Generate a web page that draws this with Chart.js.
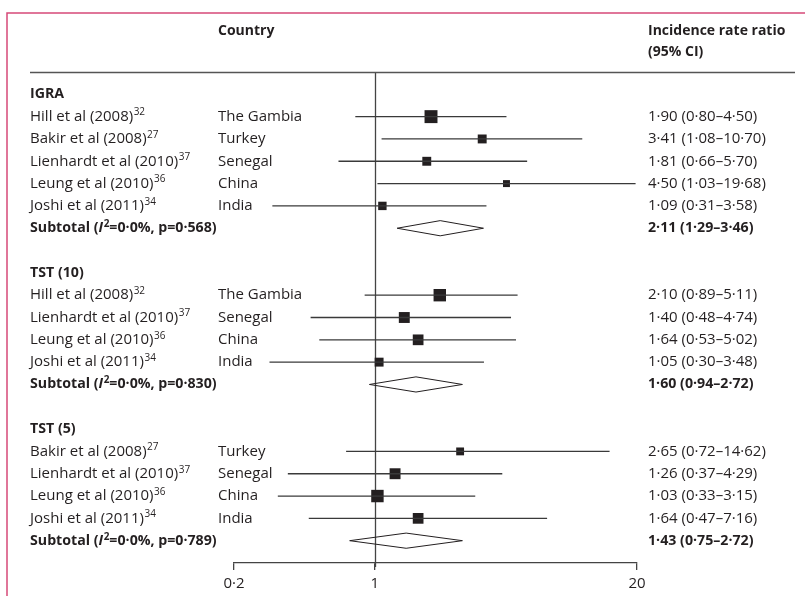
<!DOCTYPE html>
<html><head><meta charset="utf-8">
<script src="https://cdn.jsdelivr.net/npm/chart.js@4"></script>
<style>html,body{margin:0;padding:0;background:#fff}#wrap{width:805px;height:596px;position:relative}</style>
</head><body><div id="wrap"><canvas id="c" width="805" height="596"></canvas></div>
<script>
const groupNames = ['IGRA', 'TST (10)', 'TST (5)'];
const studyNames = ['Hill et al (2008)', 'Bakir et al (2008)', 'Lienhardt et al (2010)', 'Leung et al (2010)', 'Joshi et al (2011)',
  'Hill et al (2008)', 'Lienhardt et al (2010)', 'Leung et al (2010)', 'Joshi et al (2011)',
  'Bakir et al (2008)', 'Lienhardt et al (2010)', 'Leung et al (2010)', 'Joshi et al (2011)'];
const studyRefs = ['32', '27', '37', '36', '34', '32', '37', '36', '34', '27', '37', '36', '34'];
const countries = ['The Gambia', 'Turkey', 'Senegal', 'China', 'India', 'The Gambia', 'Senegal', 'China', 'India', 'Turkey', 'Senegal', 'China', 'India'];
const studyGroup = [0, 0, 0, 0, 0, 1, 1, 1, 1, 2, 2, 2, 2];
const irr = [1.90, 3.41, 1.81, 4.50, 1.09, 2.10, 1.40, 1.64, 1.05, 2.65, 1.26, 1.03, 1.64];
const ciLow = [0.80, 1.08, 0.66, 1.03, 0.31, 0.89, 0.48, 0.53, 0.30, 0.72, 0.37, 0.33, 0.47];
const ciHigh = [4.50, 10.70, 5.70, 19.68, 3.58, 5.11, 4.74, 5.02, 3.48, 14.62, 4.29, 3.15, 7.16];
const weights = [38, 18, 18, 11, 16, 35, 27, 26, 18, 14, 27, 35, 26];
const subIrr = [2.11, 1.60, 1.43];
const subLow = [1.29, 0.94, 0.75];
const subHigh = [3.46, 2.72, 2.72];
const subI2 = ['0·0%', '0·0%', '0·0%'];
const subP = ['0·568', '0·830', '0·789'];
const tickValues = [0.2, 1, 20];
const tickLabels = ['0·2', '1', '20'];

const fmt = v => v.toFixed(2).replace('.', '·');
const FONT = '"Open Sans"';
const FS = 15;     // regular text
const FSB = 14.2;  // bold text
const SUP = 10;
const INK = '#231f20';

// build row layout
const rows = [];
groupNames.forEach((g, gi) => {
  if (gi > 0) rows.push({ type: 'blank' });
  rows.push({ type: 'group', g: gi });
  studyGroup.forEach((sg, si) => { if (sg === gi) rows.push({ type: 'study', i: si }); });
  rows.push({ type: 'sub', g: gi });
});
const rowOfStudy = {}; const rowOfSub = {};
rows.forEach((r, ri) => { if (r.type === 'study') rowOfStudy[r.i] = ri; if (r.type === 'sub') rowOfSub[r.g] = ri; });

const datasets = [];
irr.forEach((v, i) => {
  datasets.push({ type: 'line', data: [{ x: ciLow[i], y: rowOfStudy[i] }, { x: ciHigh[i], y: rowOfStudy[i] }],
    borderColor: '#3a3a3a', borderWidth: 1.3, pointRadius: 0, fill: false });
});
datasets.push({ type: 'scatter', data: irr.map((v, i) => ({ x: v, y: rowOfStudy[i] })),
  pointStyle: 'rect', pointRadius: weights.map(w => 2.1 * Math.sqrt(w) / Math.SQRT2),
  backgroundColor: INK, borderWidth: 0, pointHoverRadius: 0 });
const dh = 0.34;
subIrr.forEach((v, g) => {
  const r = rowOfSub[g];
  datasets.push({ type: 'line', data: [{ x: subLow[g], y: r }, { x: v, y: r - dh }, { x: subHigh[g], y: r }, { x: v, y: r + dh }, { x: subLow[g], y: r }],
    borderColor: INK, borderWidth: 1, pointRadius: 0, fill: false, tension: 0 });
});

const textPlugin = {
  id: 'forestText',
  beforeDatasetsDraw(chart) {
    const c = chart.ctx, xs = chart.scales.x, a = chart.chartArea;
    c.save();
    c.strokeStyle = '#444'; c.lineWidth = 1.3;
    const x1 = Math.round(xs.getPixelForValue(1)) + 0.5;
    c.beginPath(); c.moveTo(x1, a.top); c.lineTo(x1, a.bottom + 4); c.stroke();
    c.restore();
  },
  afterDraw(chart) {
    const c = chart.ctx, ys = chart.scales.y, a = chart.chartArea;
    c.save();
    // frame
    c.strokeStyle = '#d64a78'; c.lineWidth = 1.5;
    c.beginPath(); c.moveTo(7, 596); c.lineTo(7, 13); c.lineTo(805, 13); c.stroke();
    // header line
    c.strokeStyle = '#555'; c.lineWidth = 1.3;
    c.beginPath(); c.moveTo(30, a.top + 0.5); c.lineTo(795, a.top + 0.5); c.stroke();
    c.fillStyle = INK; c.textBaseline = 'middle'; c.textAlign = 'left';
    const xStudy = 30, xCountry = 218, xVal = 648;
    const reg = FS + 'px ' + FONT, bold = 'bold ' + FSB + 'px ' + FONT;
    c.font = 'bold 14px ' + FONT;
    c.fillText('Country', xCountry, 31);
    c.fillText('Incidence rate ratio', xVal, 31);
    c.fillText('(95% CI)', xVal, 52);
    rows.forEach((r, ri) => {
      const y = ys.getPixelForValue(ri);
      if (r.type === 'group') {
        c.font = bold;
        c.fillText(groupNames[r.g], xStudy, y);
      } else if (r.type === 'study') {
        const i = r.i;
        c.font = reg;
        c.fillText(studyNames[i], xStudy, y);
        const w = c.measureText(studyNames[i]).width;
        c.font = SUP + 'px ' + FONT;
        c.fillText(studyRefs[i], xStudy + w + 0.5, y - 4);
        c.font = reg;
        c.fillText(countries[i], xCountry, y);
        c.fillText(fmt(irr[i]) + ' (' + fmt(ciLow[i]) + '–' + fmt(ciHigh[i]) + ')', xVal, y);
      } else if (r.type === 'sub') {
        let x = xStudy;
        c.font = bold;
        c.fillText('Subtotal (', x, y); x += c.measureText('Subtotal (').width;
        c.font = 'italic ' + bold;
        c.fillText('I', x, y); x += c.measureText('I').width + 0.5;
        c.font = 'bold ' + SUP + 'px ' + FONT;
        c.fillText('2', x, y - 4); x += c.measureText('2').width;
        c.font = bold;
        c.fillText('=' + subI2[r.g] + ', p=' + subP[r.g] + ')', x, y);
        c.fillText(fmt(subIrr[r.g]) + ' (' + fmt(subLow[r.g]) + '–' + fmt(subHigh[r.g]) + ')', xVal, y);
      }
    });
    c.restore();
  }
};

function draw() {
  new Chart(document.getElementById('c').getContext('2d'), {
    type: 'scatter',
    data: { datasets },
    options: {
      responsive: false, animation: false,
      layout: { padding: { left: 234, right: 168, top: 72, bottom: 0 } },
      plugins: { legend: { display: false }, tooltip: { enabled: false } },
      events: [],
      scales: {
        x: {
          type: 'logarithmic', min: 0.2, max: 20, position: 'bottom',
          afterBuildTicks: s => { s.ticks = tickValues.map(v => ({ value: v })); },
          afterFit: s => { s.height = 33; },
          ticks: { callback: (v, idx) => tickLabels[idx], font: { family: 'Open Sans', size: FS }, color: INK, padding: 5, maxRotation: 0, autoSkip: false },
          grid: { display: true, drawOnChartArea: false, drawTicks: true, tickLength: 7, color: '#444', lineWidth: 1.3 },
          border: { display: true, color: '#444', width: 1.3 }
        },
        y: { type: 'linear', min: -1, max: 21, reverse: true, display: false }
      }
    },
    plugins: [textPlugin]
  });
}
Promise.all([document.fonts.load('15px "Open Sans"'), document.fonts.load('bold 14px "Open Sans"'), document.fonts.load('italic bold 14px "Open Sans"')]).then(draw, draw);
</script>
</body></html>
